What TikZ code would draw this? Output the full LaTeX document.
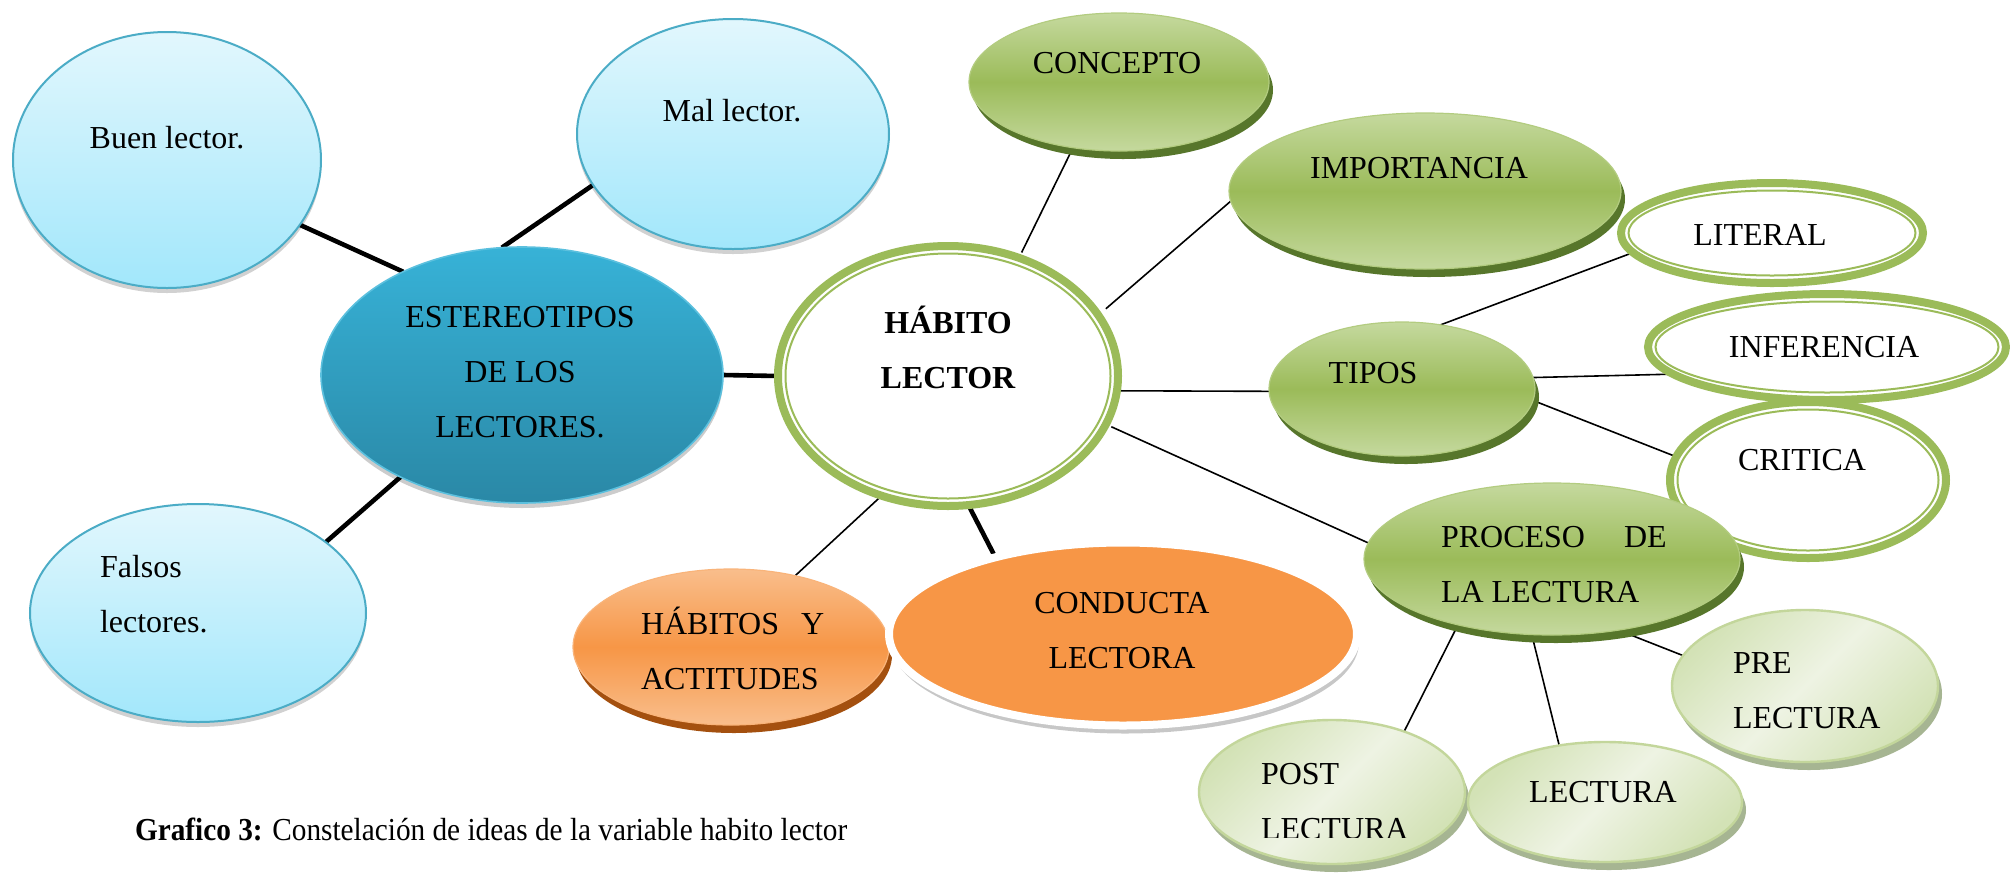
\documentclass[tikz,border=0pt]{standalone}
\usepackage{fontspec}
\usepackage{graphicx}
\setmainfont{Liberation Serif}
\usetikzlibrary{shapes.geometric,shadows,backgrounds}
\definecolor{cyanborder}{HTML}{4BACC6}
\definecolor{cyantop}{HTML}{E2F7FD}
\definecolor{cyanbot}{HTML}{A2E7FB}
\definecolor{estborder}{HTML}{5BC0DE}
\definecolor{esttop}{HTML}{37B2D7}
\definecolor{estbot}{HTML}{2A88A6}
\definecolor{grnmid}{HTML}{9BBB59}
\definecolor{grnlight}{HTML}{C5D99E}
\definecolor{grnborder}{HTML}{B3CC80}
\definecolor{grnshadow}{HTML}{57762B}
\definecolor{orgmid}{HTML}{F79646}
\definecolor{orglight}{HTML}{F9BE8C}
\definecolor{orgborder}{HTML}{F9B47A}
\definecolor{orgshadow}{HTML}{A4500F}
\definecolor{paleborder}{HTML}{C3D69B}
\definecolor{paledark}{HTML}{D3E2B6}
\definecolor{palelight}{HTML}{EEF3E3}
\definecolor{paleshadow}{HTML}{A6B592}
\newcommand\stk[2][c]{\begin{tabular}[t]{@{}#1@{}}#2\end{tabular}}
\begin{document}
\begin{tikzpicture}[x=0.5pt, y=-0.5pt,
  shp/.style={ellipse, inner sep=0pt, outer sep=0pt},
  cyannode/.style={shp, draw=cyanborder, line width=1pt, top color=cyantop, bottom color=cyanbot,
    drop shadow={fill=black, opacity=.18, shadow xshift=0pt, shadow yshift=-2.5pt}},
  estnode/.style={shp, draw=estborder, line width=.8pt, top color=esttop, bottom color=estbot,
    drop shadow={fill=black, opacity=.2, shadow xshift=0pt, shadow yshift=-2.5pt}},
  greennode/.style={shp, draw=grnborder, line width=.6pt, top color=grnlight, bottom color=grnlight, middle color=grnmid,
    drop shadow={fill=grnshadow, opacity=1, shadow xshift=2pt, shadow yshift=-4pt}},
  ringnode/.style={shp, draw=grnmid, line width=4pt, fill=white},
  inring/.style={draw=grnmid, line width=1pt},
  orangenode/.style={shp, draw=orgborder, line width=.6pt, top color=orglight, bottom color=orglight, middle color=orgmid,
    drop shadow={fill=orgshadow, opacity=1, shadow xshift=1.5pt, shadow yshift=-4pt}},
  conductanode/.style={shp, draw=white, line width=4pt, fill=orgmid,
    drop shadow={fill=black, opacity=.22, shadow xshift=1pt, shadow yshift=-4pt}},
  palenode/.style={shp, draw=paleborder, line width=1.2pt, shading=axis, left color=paledark, right color=paledark,
    middle color=palelight, shading angle=45,
    drop shadow={fill=paleshadow, opacity=1, shadow xshift=2pt, shadow yshift=-4pt}},
  txt/.style={inner sep=0pt, outer sep=0pt, font=\fontsize{16pt}{27.5pt}\selectfont, anchor=base},
  txtl/.style={txt, anchor=base west},
  thickline/.style={line width=2.3pt, black},
  thinline/.style={line width=.8pt, black}]
\useasboundingbox (0,0) rectangle (2010,874);

% --- left cluster ---
\node[cyannode, minimum width=154pt, minimum height=128pt] (buen) at (167,160) {};
\node[txt] (buen-t) at (167,148) {Buen lector.};
\node[cyannode, minimum width=156pt, minimum height=115pt] (mal) at (733,134) {};
\node[txt] (mal-t) at (732,121) {Mal lector.};
\node[cyannode, minimum width=168pt, minimum height=109pt] (falsos) at (198,613) {};
\node[txtl] (falsos-t) at (100,577) {\stk[l]{Falsos\\lectores.}};
\node[estnode, minimum width=201pt, minimum height=128pt] (est) at (522,375) {};
\node[txt] (est-t) at (520,327) {\stk{ESTEREOTIPOS\\DE LOS\\LECTORES.}};

% --- top green ---
\node[greennode, minimum width=150pt, minimum height=69pt] (concepto) at (1119,82) {};
\node[txt] (concepto-t) at (1117,73) {CONCEPTO};
\node[greennode, minimum width=196pt, minimum height=78pt] (importancia) at (1425,191) {};
\node[txt] (importancia-t) at (1419,178) {IMPORTANCIA};

% --- centre ---
\node[ringnode, minimum width=170pt, minimum height=130pt] (habito) at (948,376) {};
\draw[inring] (habito.center) ellipse [x radius=81.25pt, y radius=61.25pt];
\node[txt, font=\fontsize{16pt}{27.5pt}\selectfont\bfseries] (habito-t) at (948,333) {\stk{HÁBITO\\LECTOR}};

% --- tipos branch ---
\node[greennode, minimum width=133pt, minimum height=67pt] (tipos) at (1402,389) {};
\node[txt] (tipos-t) at (1373,383) {TIPOS};
\node[ringnode, minimum width=151pt, minimum height=50pt] (literal) at (1772,233) {};
\draw[inring] (literal.center) ellipse [x radius=71.75pt, y radius=21.25pt];
\node[txt] (literal-t) at (1760,245) {LITERAL};
\node[ringnode, minimum width=179pt, minimum height=53pt] (inferencia) at (1827,347) {};
\draw[inring] (inferencia.center) ellipse [x radius=85.75pt, y radius=22.75pt];
\node[txt] (inferencia-t) at (1824,357) {INFERENCIA};
\node[ringnode, minimum width=138pt, minimum height=78pt] (critica) at (1808,480) {};
\draw[inring] (critica.center) ellipse [x radius=65.25pt, y radius=35.25pt];
\node[txt] (critica-t) at (1802,470) {CRITICA};

% --- proceso branch ---
\node[greennode, minimum width=188pt, minimum height=76pt] (proceso) at (1552,559) {};
\node[txtl] (proceso-t) at (1441,547) {\stk[l]{PROCESO\hspace{19.5pt}DE\\LA LECTURA}};

% --- orange ---
\node[orangenode, minimum width=158pt, minimum height=78pt] (habitos) at (731,647) {};
\node[txtl] (habitos-t) at (641,634) {\stk[l]{HÁBITOS\hspace{11pt}Y\\ACTITUDES}};
\node[conductanode, minimum width=234pt, minimum height=91.5pt] (conducta) at (1123,634) {};
\node[txt] (conducta-t) at (1122,613) {\stk{CONDUCTA\\LECTORA}};

% --- reading stages ---
\node[palenode, minimum width=133pt, minimum height=72pt] (post) at (1332,792) {};
\begin{scope}
  \clip (1200,740) rectangle (1470,837);
  \node[txtl] (post-t) at (1261,784) {\stk[l]{POST\\LECTURA}};
\end{scope}
\node[palenode, minimum width=137pt, minimum height=60pt] (lectura) at (1605,802) {};
\node[txt] (lectura-t) at (1603,802) {LECTURA};
\node[palenode, minimum width=133pt, minimum height=76pt] (pre) at (1805,686) {};
\node[txtl] (pre-t) at (1733,673) {\stk[l]{PRE\\LECTURA}};

% --- caption ---
\node[txtl] (caption) at (135,840) {\scalebox{0.915}[1]{\textbf{Grafico 3:} Constelación de ideas de la variable habito lector}};

% --- connectors ---
\begin{scope}[on background layer]
  \fill[white] (0,0) rectangle (2010,874);
  \draw[thickline] (est.139.9) -- (buen.-26.7);
  \draw[thickline] (est.99.8) -- (mal.200.6);
  \draw[thickline] (est.220.9) -- (falsos.29.4);
  \draw[thickline] (est.east) -- (habito.west);
  \draw[thinline, shorten <=3pt] (habito.59.6) -- (concepto.235);
  \draw[thinline, shorten <=5pt] (habito.22) -- (importancia.183.2);
  \draw[thinline] (habito.-5.8) -- (tipos.181.7);
  \draw[thinline, shorten <=3pt] (habito.-17.2) -- (proceso.175.4);
  \draw[thinline] (habito.241.2) -- (habitos.48.8);
  \draw[thickline] (habito.-81.2) -- (conducta.149.1);
  \draw[thinline] (tipos.59.2) -- (literal.188.7);
  \draw[thinline] (tipos.5.75) -- (inferencia.190.4);
  \draw[thinline] (tipos.-5.5) -- (critica.170.5);
  \draw[thinline] (proceso.215.4) -- (post.40);
  \draw[thinline] (proceso.255.1) -- (lectura.129.8);
  \draw[thinline] (proceso.-47.7) -- (pre.166.9);
\end{scope}
\end{tikzpicture}
\end{document}
